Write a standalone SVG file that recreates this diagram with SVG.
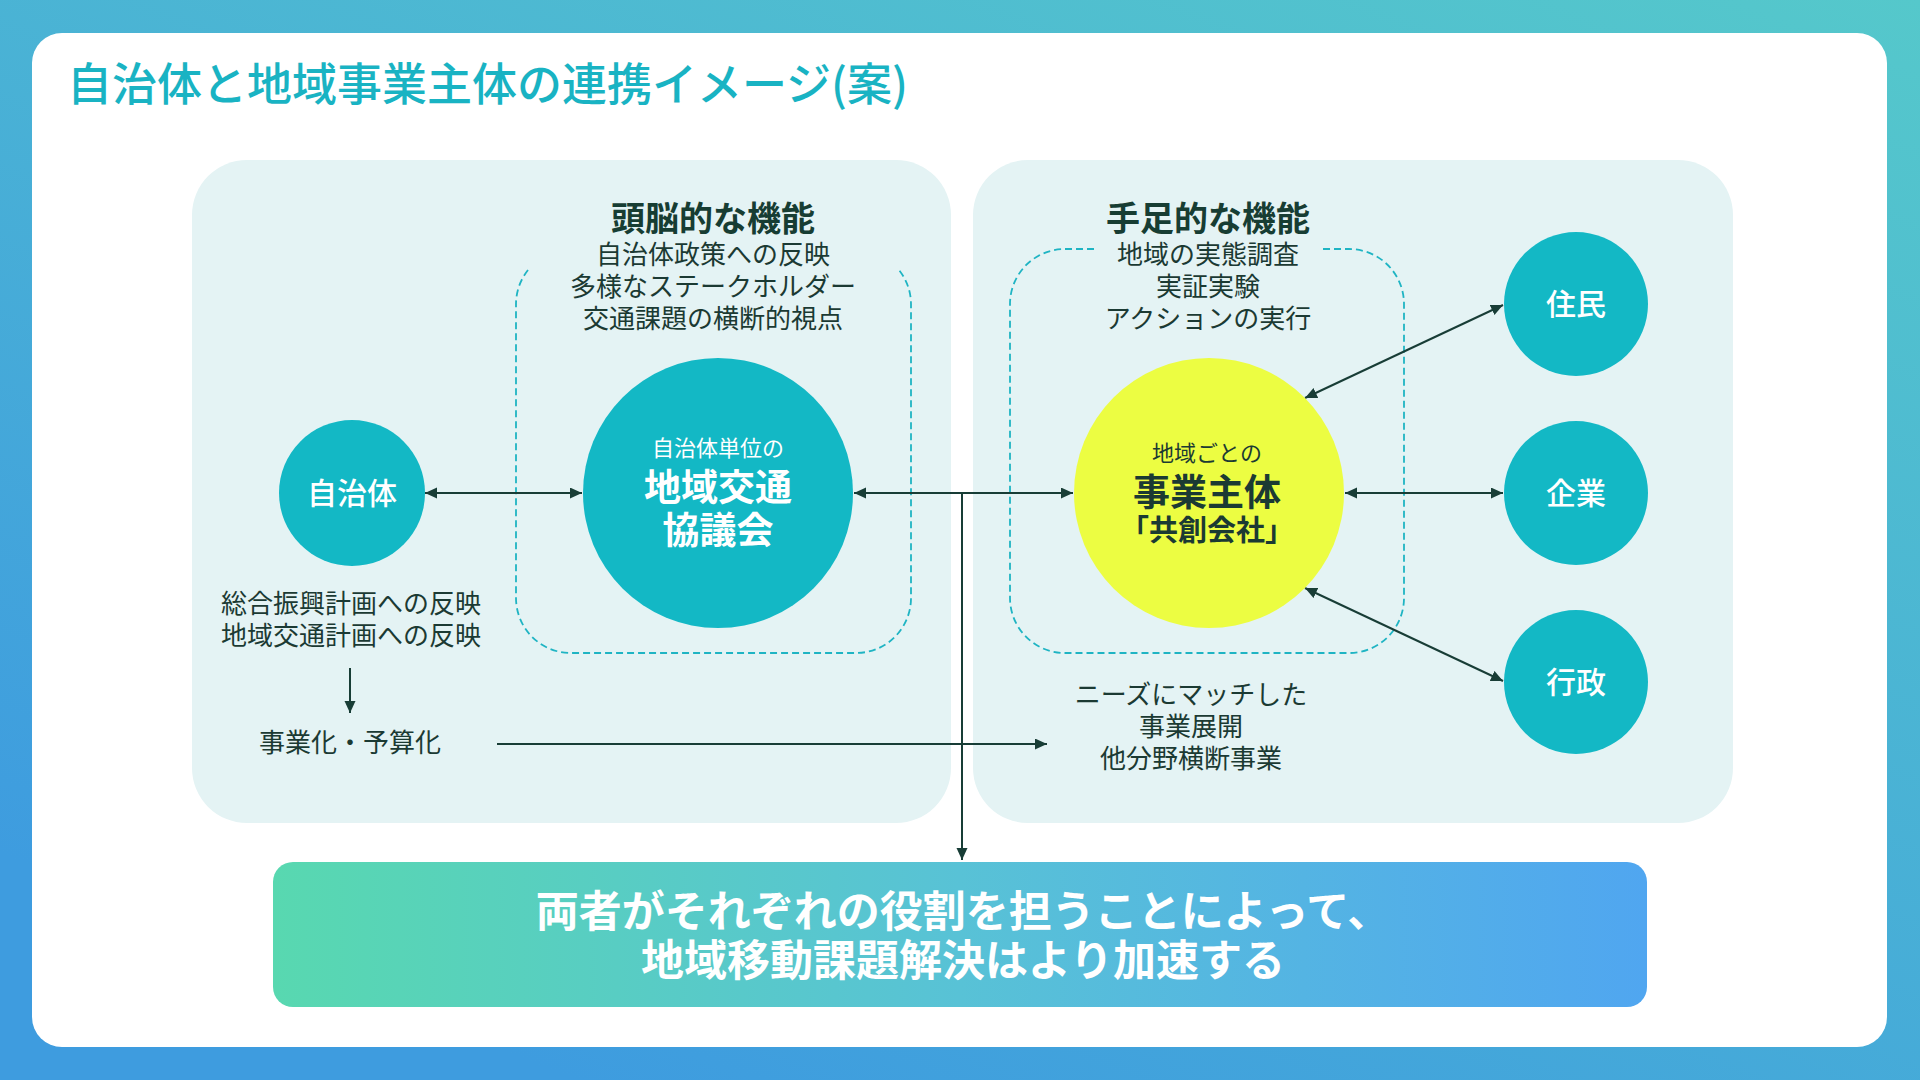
<svg xmlns="http://www.w3.org/2000/svg" width="1920" height="1080" viewBox="0 0 1920 1080">
  <defs>
    <linearGradient id="bg" x1="1" y1="0" x2="0.3" y2="1">
      <stop offset="0" stop-color="#55c8cb"/>
      <stop offset="1" stop-color="#3e9cdf"/>
    </linearGradient>
    <linearGradient id="banner" x1="0" y1="0" x2="1" y2="0">
      <stop offset="0" stop-color="#58d8b0"/>
      <stop offset="0.5" stop-color="#58c2d6"/>
      <stop offset="1" stop-color="#50a6f0"/>
    </linearGradient>
    <marker id="ah" markerUnits="userSpaceOnUse" markerWidth="13" markerHeight="12" refX="12" refY="5.5" orient="auto-start-reverse">
      <path d="M0,0 L12,5.5 L0,11 z" fill="#183d36"/>
    </marker>
    <style>
      .t { font-family: "Noto Sans CJK JP", "Noto Sans", sans-serif; }
      .dark { fill: #1b3a33; }
      .panel { fill: #e4f3f4; }
      .dash { fill: none; stroke: #1fb4c3; stroke-width: 1.8; stroke-dasharray: 7 4; }
      .teal { fill: #13b8c5; }
      .conn { stroke: #183d36; stroke-width: 2; fill: none; }
      .lbl { font-size: 30px; fill: #ffffff; font-weight: 500; }
      .sub { font-size: 26px; }
      .head { font-size: 34px; font-weight: 700; fill: #173d33; }
    </style>
  </defs>

  <rect x="0" y="0" width="1920" height="1080" fill="url(#bg)"/>
  <rect x="32" y="33" width="1855" height="1014" rx="30" fill="#ffffff"/>

  <text class="t" x="67" y="101" font-size="45" font-weight="500" fill="#19b3c3">自治体と地域事業主体の連携イメージ(案)</text>

  <g id="panel-left">
    <rect x="192" y="160" width="759" height="663" rx="55" class="panel"/>
    <path class="dash" d="M528,270 A55,55 0 0 0 516,304 L516,598 A55,55 0 0 0 571,653 L856,653 A55,55 0 0 0 911,598 L911,304 A55,55 0 0 0 899,270"/>
    <text class="t head" x="713" y="231" text-anchor="middle">頭脳的な機能</text>
    <text class="t sub dark" x="713" y="264" text-anchor="middle">自治体政策への反映</text>
    <text class="t sub dark" x="713" y="296" text-anchor="middle">多様なステークホルダー</text>
    <text class="t sub dark" x="713" y="328" text-anchor="middle">交通課題の横断的視点</text>
    <text class="t sub dark" x="351" y="613" text-anchor="middle">総合振興計画への反映</text>
    <text class="t sub dark" x="351" y="645" text-anchor="middle">地域交通計画への反映</text>
    <text class="t sub dark" x="350" y="752" text-anchor="middle">事業化・予算化</text>
  </g>

  <g id="panel-right">
    <rect x="973" y="160" width="760" height="663" rx="55" class="panel"/>
    <path class="dash" d="M1094,249 L1065,249 A55,55 0 0 0 1010,304 L1010,598 A55,55 0 0 0 1065,653 L1349,653 A55,55 0 0 0 1404,598 L1404,304 A55,55 0 0 0 1349,249 L1320,249"/>
    <text class="t head" x="1208" y="231" text-anchor="middle">手足的な機能</text>
    <text class="t sub dark" x="1208" y="264" text-anchor="middle">地域の実態調査</text>
    <text class="t sub dark" x="1208" y="296" text-anchor="middle">実証実験</text>
    <text class="t sub dark" x="1208" y="328" text-anchor="middle">アクションの実行</text>
    <text class="t sub dark" x="1191" y="704" text-anchor="middle">ニーズにマッチした</text>
    <text class="t sub dark" x="1191" y="736" text-anchor="middle">事業展開</text>
    <text class="t sub dark" x="1191" y="768" text-anchor="middle">他分野横断事業</text>
  </g>

  <g id="connectors">
    <line class="conn" x1="425" y1="493" x2="582" y2="493" marker-start="url(#ah)" marker-end="url(#ah)"/>
    <line class="conn" x1="854" y1="493" x2="1073" y2="493" marker-start="url(#ah)" marker-end="url(#ah)"/>
    <line class="conn" x1="962" y1="493" x2="962" y2="860" marker-end="url(#ah)"/>
    <line class="conn" x1="1345" y1="493" x2="1503" y2="493" marker-start="url(#ah)" marker-end="url(#ah)"/>
    <line class="conn" x1="1305" y1="398" x2="1503" y2="305" marker-start="url(#ah)" marker-end="url(#ah)"/>
    <line class="conn" x1="1305" y1="588" x2="1503" y2="681" marker-start="url(#ah)" marker-end="url(#ah)"/>
    <line class="conn" x1="350" y1="668" x2="350" y2="713" marker-end="url(#ah)"/>
    <line class="conn" x1="497" y1="744" x2="1047" y2="744" marker-end="url(#ah)"/>
  </g>

  <g id="node-jichitai">
    <circle cx="352" cy="493" r="73" class="teal"/>
    <text class="t lbl" x="352" y="504" text-anchor="middle">自治体</text>
  </g>

  <g id="node-kyogikai">
    <circle cx="718" cy="493" r="135" class="teal"/>
    <text class="t" x="718" y="456" text-anchor="middle" font-size="22" fill="#ffffff">自治体単位の</text>
    <text class="t" x="718" y="501" text-anchor="middle" font-size="37" font-weight="700" fill="#ffffff">地域交通</text>
    <text class="t" x="718" y="544" text-anchor="middle" font-size="37" font-weight="700" fill="#ffffff">協議会</text>
  </g>

  <g id="node-jigyoshutai">
    <circle cx="1209" cy="493" r="135" fill="#ecfd42"/>
    <text class="t dark" x="1207" y="461" text-anchor="middle" font-size="22">地域ごとの</text>
    <text class="t dark" x="1207" y="506" text-anchor="middle" font-size="37" font-weight="700">事業主体</text>
    <text class="t dark" x="1207" y="541" text-anchor="middle" font-size="29" font-weight="700">「共創会社」</text>
  </g>

  <g id="node-jumin">
    <circle cx="1576" cy="304" r="72" class="teal"/>
    <text class="t lbl" x="1576" y="315" text-anchor="middle">住民</text>
  </g>

  <g id="node-kigyo">
    <circle cx="1576" cy="493" r="72" class="teal"/>
    <text class="t lbl" x="1576" y="504" text-anchor="middle">企業</text>
  </g>

  <g id="node-gyosei">
    <circle cx="1576" cy="682" r="72" class="teal"/>
    <text class="t lbl" x="1576" y="693" text-anchor="middle">行政</text>
  </g>

  <g id="node-banner">
    <rect x="273" y="862" width="1374" height="145" rx="20" fill="url(#banner)"/>
    <text class="t" x="963" y="927" text-anchor="middle" font-size="43" font-weight="700" fill="#ffffff">両者がそれぞれの役割を担うことによって、</text>
    <text class="t" x="963" y="976" text-anchor="middle" font-size="43" font-weight="700" fill="#ffffff">地域移動課題解決はより加速する</text>
  </g>
</svg>
